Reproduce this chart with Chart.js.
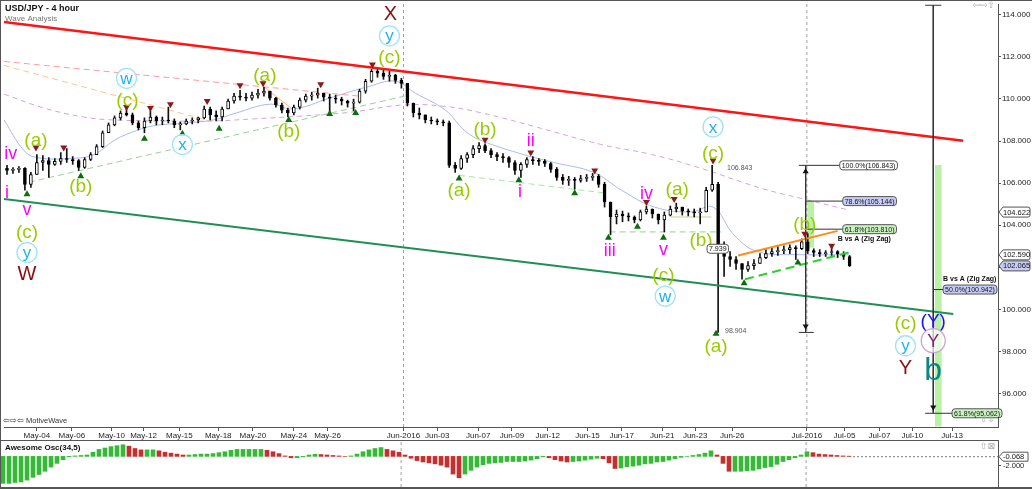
<!DOCTYPE html>
<html><head><meta charset="utf-8">
<script src="https://cdn.jsdelivr.net/npm/chart.js@4.4.1/dist/chart.umd.min.js"></script>
<style>
html,body{margin:0;padding:0;background:#fff;}
#wrap{position:relative;width:1032px;height:489px;overflow:hidden;background:#fff;}
#main{position:absolute;left:0;top:0;width:1032px;height:440px;}
#osc{position:absolute;left:0;top:440px;width:1032px;height:49px;}
.ln{position:absolute;background:#555;}
</style></head><body>
<div id="wrap">
<div id="main"><canvas id="c1"></canvas></div>
<div id="osc"><canvas id="c2"></canvas></div>
<div class="ln" style="left:0;top:0;width:1032px;height:1px"></div>
<div class="ln" style="left:0;top:0;width:1px;height:489px"></div>
<div class="ln" style="left:0;top:440px;width:999px;height:1px"></div>
<div class="ln" style="left:0;top:487px;width:1032px;height:2px"></div>
</div>
<script>
// ---------- DATA ----------
const xTickSlots  = [11,22.7,36,46.7,58.7,71.7,83.3,97,108.3,133.7,145,158.7,170,182,195.3,206.7,220.3,231.3,243.7,268.7,281.3,293,304,317.3];
const xTickLabels = ['May-04','May-06','May-10','May-12','May-15','May-18','May-20','May-24','May-26','Jun-2016','Jun-03','Jun-07','Jun-09','Jun-12','Jun-15','Jun-17','Jun-21','Jun-23','Jun-26','Jul-2016','Jul-05','Jul-07','Jul-10','Jul-13'];
const yTickValues = [96,98,100,102,104,106,108,110,112,114];
const firstOpen = 106.70;
const highs = [106.84,106.74,106.79,106.74,106.51,107.35,107.31,107.21,107.17,107.45,
107.64,107.26,107.12,107.21,107.45,107.83,108.48,108.86,109.19,109.43,
109.52,109.33,108.95,109.10,109.43,109.19,109.14,109.61,109.05,108.91,
109.05,109.10,109.14,109.66,109.61,109.43,109.61,109.99,110.27,110.41,
110.27,110.32,110.46,110.55,110.37,110.08,109.80,109.57,109.71,110.04,
110.23,110.32,110.51,110.27,110.23,110.18,110.08,109.94,109.99,110.46,
110.93,111.40,111.45,111.36,111.31,111.17,110.98,110.74,109.80,109.57,
109.24,109.14,109.05,109.00,108.95,106.98,107.31,107.45,107.78,107.92,
107.87,107.64,107.45,107.40,107.26,107.07,106.98,107.21,107.26,107.17,
107.12,106.98,106.74,106.41,106.32,106.27,106.37,106.41,106.46,106.41,
106.04,105.10,104.72,104.67,104.58,104.44,104.72,104.91,104.77,104.53,
104.63,104.91,105.05,104.86,104.77,104.77,104.81,105.80,106.84,106.04,
103.21,102.74,102.51,102.18,102.27,102.37,102.65,102.84,102.93,102.98,
103.02,103.07,103.02,103.35,103.60,102.88,102.84,102.79,102.93,102.79,
102.74,102.56];
const lows = [106.41,106.46,106.51,105.66,105.80,106.41,106.60,106.27,106.84,106.89,
106.98,106.89,106.60,106.70,107.07,107.35,107.69,108.39,108.72,109.00,
109.19,108.77,108.53,108.39,108.86,108.77,108.77,108.86,108.63,108.53,
108.77,108.81,108.86,109.05,109.00,108.95,108.95,109.52,109.80,109.94,
109.90,109.94,110.04,110.13,109.94,109.61,109.33,109.14,109.24,109.52,
109.85,109.94,110.04,109.90,109.33,109.80,109.71,109.61,109.43,109.80,
110.27,110.79,111.03,110.93,110.84,110.74,110.51,109.66,109.14,109.05,
108.86,108.81,108.77,108.72,106.74,106.51,106.65,106.98,107.21,107.45,
107.45,107.21,107.07,106.98,106.74,106.41,106.27,106.74,106.89,106.84,
106.79,106.51,106.13,105.94,105.89,105.71,106.04,106.08,106.13,105.80,
104.86,103.54,104.06,104.16,104.20,104.11,104.20,104.53,104.34,104.06,
103.68,104.44,104.63,104.48,104.44,104.39,104.06,104.63,105.60,98.90,
101.57,102.04,101.90,101.43,101.80,101.90,102.18,102.41,102.51,102.56,
102.65,102.65,102.37,102.84,102.65,102.51,102.51,102.51,102.56,102.46,
102.37,102.04];
const closes = [106.60,106.65,106.70,105.94,106.41,106.98,107.07,106.89,107.03,107.17,
107.12,107.07,106.74,107.12,107.35,107.73,108.39,108.77,109.10,109.33,
109.24,108.86,108.63,108.95,109.14,108.95,109.00,108.95,108.77,108.81,
108.95,109.00,109.10,109.52,109.24,109.14,109.52,109.90,110.13,110.08,
110.04,110.18,110.27,110.37,110.04,109.71,109.47,109.33,109.61,109.94,
110.13,110.18,110.27,110.08,110.04,109.99,109.90,109.80,109.85,110.37,
110.84,111.31,111.22,111.07,111.12,110.88,110.74,109.80,109.33,109.24,
109.00,108.95,108.91,108.86,106.84,106.70,107.17,107.35,107.64,107.78,
107.54,107.35,107.26,107.21,106.98,106.60,106.89,107.12,107.07,107.03,
106.93,106.65,106.27,106.13,106.18,106.13,106.22,106.27,106.32,105.94,
105.10,104.39,104.53,104.44,104.39,104.25,104.63,104.77,104.53,104.25,
104.48,104.77,104.86,104.67,104.63,104.58,104.63,105.66,105.94,102.74,
102.51,102.37,102.18,101.90,102.08,102.18,102.46,102.65,102.74,102.79,
102.84,102.93,102.88,103.21,102.79,102.70,102.65,102.70,102.74,102.65,
102.51,102.07];
const aoValues = [-5.8,-5.8,-5.6,-5.5,-5.1,-4.5,-3.9,-3.2,-2.3,-1.5,
-0.7,-0.1,0.1,0.2,0.3,0.9,1.5,1.8,2.1,2.3,
2.5,2.2,1.7,1.4,1.4,1.4,1.2,0.9,0.7,0.5,
0.3,0.3,0.4,0.5,0.5,0.6,0.8,1.0,1.3,1.5,
1.5,1.5,1.5,1.5,1.3,1.0,0.6,0.1,-0.3,-0.3,
-0.1,0.3,0.45,0.4,0.3,0.2,0.1,0.0,0.1,0.5,
1.0,1.4,1.7,1.9,1.5,1.2,0.9,0.3,-0.4,-0.9,
-1.2,-1.4,-1.6,-1.9,-2.3,-3.8,-4.6,-3.8,-3.0,-2.3,
-1.8,-1.5,-1.4,-1.3,-1.1,-1.1,-1.1,-1.0,-0.8,-0.5,
-0.1,-0.3,-0.7,-1.0,-1.2,-1.1,-1.0,-0.8,-0.6,-0.4,
-0.5,-1.4,-2.6,-2.5,-2.2,-2.1,-1.9,-1.6,-1.5,-1.2,
-1.1,-0.8,-0.5,-0.2,0.0,0.2,0.4,0.7,1.2,0.3,
-1.5,-3.2,-3.2,-3.2,-3.1,-3.0,-2.7,-2.4,-2.2,-1.7,
-1.1,-0.7,-0.3,0.3,1.0,0.8,0.5,0.4,0.3,0.2,
0.1,0.05];
const aoLast = -0.068;

const redChannel   = [[0,113.66],[321,108.01]];
const greenChannel = [[0,105.24],[317.7,99.78]];
const pinkDash     = [[0,111.78],[119,110.13]];
const orangeDash   = [[0,111.59],[69,108.95]];
const orangeAB     = [[86.7,110.60],[97.3,109.43]];
const greenDash1   = [[8.3,106.04],[134,110.13]];
const greenDash2   = [[152.3,106.37],[201.7,105.52]];
const greenDash3   = [[202.7,103.68],[240,103.68]];
const oliveLine    = [[223.3,104.39],[236.7,104.39]];
const triUpper     = [[245.7,102.56],[279,103.73]];
const triLower     = [[248,101.43],[282.7,102.70]];
const blueMA = [[0,109.00],[6.7,107.54],[11,107.21],[22.3,107.17],[30,107.35],[36.7,108.01],[42.3,108.39],[50,108.72],[61,108.86],[70,109.00],[77.7,109.33],[89,109.75],[96.7,109.52],[109,110.04],[122.3,110.60],[131,110.84],[137.7,110.27],[147.7,109.47],[154.3,108.48],[160,108.01],[174,107.35],[184,106.98],[197.3,106.51],[206.7,105.66],[217.7,104.86],[230,104.63],[237.3,104.86],[244.3,103.54],[252.3,102.74],[266.7,102.60],[282.7,102.60]];
const purpleMA = [[0,110.23],[13.3,109.57],[26.7,109.14],[36.7,109.00],[56.7,108.95],[70,108.95],[83.3,109.05],[100,109.19],[116.7,109.38],[133.3,109.71],[146.7,109.66],[160,109.33],[176.7,108.72],[200,107.83],[216.7,107.36],[233.3,106.70],[253.3,105.76],[267.7,105.24],[282.7,104.72]];

const peakMarks = [[10.7,107.69],[20,107.69],[41,109.61],[49,109.57],[55.7,109.75],[68,109.90],[79,110.65],[86.7,110.74],[106,110.70],[123.3,111.64],[161,108.06],[176.3,107.45],[197.7,106.60],[215,105.10],[224.3,105.24],[237.3,107.07],[268,103.59],[277,103.02]];
const troughMarks = [[7.7,105.47],[25.7,106.32],[47,108.11],[59.7,108.34],[72,108.58],[95.3,109.0],[109,109.28],[117.7,109.33],[152.3,106.22],[172.3,106.13],[191,105.52],[202.3,103.40],[212,103.92],[220.7,103.40],[238.3,98.84],[247.7,101.24],[265.7,102.23]];

const bands = [[270,102.95,105.144],[312.7,94.45,106.843]];

const measureLines = [
 [[268.3,106.843],[268.3,98.904]],[[266,106.843],[279.7,106.843]],[[266,98.904],[271,98.904]],
 [[268.3,105.144],[280.7,105.144]],[[268.3,103.810],[280.7,103.810]],
 [[311,114.45],[311,95.062]],[[308.3,114.45],[313.7,114.45]],[[308.3,95.062],[317.3,95.062]],[[311,100.942],[314.3,100.942]]];
const arrowsUp = [[268.3,106.55]];
const arrowsDown = [[268.3,99.2],[311,95.35]];
const measureBoxes = [['100.0%(106.843)',279.7,106.843,'plain'],['78.6%(105.144)',280.7,105.144,'blue'],['61.8%(103.810)',280.7,103.810,'green'],['50.0%(100.942)',314.3,100.942,'blue'],['61.8%(95.062)',317.3,95.062,'green']];
const measureTitles = [['B vs A (Zig Zag)',279,103.35],['B vs A (Zig Zag)',314.3,101.43]];
const spikeNotes = [['106.843',242,106.70],['98.904',241.3,98.98]];
const rangeNote = ['7.939',238.3,102.88];
const axisMarks = [[104.622,'plain'],[102.590,'plain'],[102.065,'blue']];

const waveLabels = [
 ['iv',2.3,107.45,'minor'],['i',1,105.57,'minor'],['v',7.7,104.77,'minor'],['(c)',7.7,103.68,'inter'],['y',7.7,102.70,'circ'],['W',7.7,101.71,'prim'],
 ['(a)',10.7,108.06,'inter'],['(b)',25.7,105.89,'inter'],['(c)',41.3,109.94,'inter'],['w',41,110.98,'circ'],['x',59.7,107.83,'circ'],
 ['(a)',87.3,111.17,'inter'],['(b)',95.3,108.48,'inter'],['(c)',129,112.02,'inter'],['y',129,113.0,'circ'],['X',129.3,114.08,'prim'],
 ['(a)',152.3,105.66,'inter'],['(b)',161,108.58,'inter'],['i',172.7,105.61,'minor'],['ii',176.3,108.06,'minor'],['iii',202.7,102.84,'minor'],
 ['iv',215,105.52,'minor'],['v',220.7,102.88,'minor'],['(c)',220.7,101.66,'inter'],['w',221.3,100.63,'circ'],['(a)',225.3,105.71,'inter'],
 ['(b)',233.3,103.31,'inter'],['(c)',237.3,107.45,'inter'],['x',237.3,108.67,'circ'],['(a)',238.3,98.27,'inter'],['(b)',268,104.06,'inter'],
 ['(c)',301.7,99.35,'inter'],['y',301.7,98.27,'circ'],['Y',301.7,97.24,'prim'],['(Y)',311,99.45,'blue'],['Y',311,98.51,'purp'],['b',311,97.1,'teal']];

// ---------- STYLE ----------
const FF = '"Liberation Sans", Arial, sans-serif';
const waveStyle = {
 minor:{color:'#ff00ff',font:'18px '+FF},
 inter:{color:'#99cc00',font:'19px '+FF},
 circ:{color:'#1cb4ec',font:'17px '+FF,ring:'#9fe2fa',r:10},
 prim:{color:'#8b0f0f',font:'20px '+FF},
 blue:{color:'#1414ff',font:'19px '+FF},
 purp:{color:'#7b1f6a',font:'18px '+FF,ring:'#c9a3d9',r:12},
 teal:{color:'#0f8585',font:'32px '+FF}
};
const boxFill = {plain:'#ffffff',blue:'#c6ccf3',green:'#c9f2c0'};
const XMIN=0, XMAX=332.67, YMIN=94.41, YMAX=114.51, AOMIN=-6.58, AOMAX=3.31;
const slotOf = i => 2*i + 1;
const monthSlots = xTickSlots.filter((s,i)=>xTickLabels[i].indexOf('2016')>=0);

// ---------- HELPERS ----------
const pts = a => a.map(([x,y])=>({x,y}));
function lineDS(p,color,width,dash,order,tension){return {type:'line',data:pts(p),borderColor:color,borderWidth:width,borderDash:dash||[],pointRadius:0,tension:tension||0,order:order,fill:false};}
function rrect(ctx,x,y,w,h,r){ctx.beginPath();ctx.moveTo(x+r,y);ctx.lineTo(x+w-r,y);ctx.quadraticCurveTo(x+w,y,x+w,y+r);ctx.lineTo(x+w,y+h-r);ctx.quadraticCurveTo(x+w,y+h,x+w-r,y+h);ctx.lineTo(x+r,y+h);ctx.quadraticCurveTo(x,y+h,x,y+h-r);ctx.lineTo(x,y+r);ctx.quadraticCurveTo(x,y,x+r,y);ctx.closePath();}
function labelBox(ctx,t,x,y,fill,font){ctx.save();ctx.font=font;const w=ctx.measureText(t).width+4,h=9;rrect(ctx,x,y-h/2,w,h,3);ctx.fillStyle=fill;ctx.fill();ctx.strokeStyle='#555';ctx.lineWidth=1;ctx.stroke();ctx.fillStyle='#111';ctx.textAlign='left';ctx.textBaseline='middle';ctx.fillText(t,x+2,y+0.5);ctx.restore();}
function txt(ctx,t,x,y,font,color,align){ctx.save();ctx.font=font;ctx.fillStyle=color;ctx.textAlign=align||'left';ctx.textBaseline='middle';ctx.fillText(t,x,y);ctx.restore();}
function noPad(s){s.paddingTop=0;s.paddingBottom=0;s.paddingLeft=0;s.paddingRight=0;}

// ---------- MAIN CHART ----------
const opens = closes.map((c,i)=> i===0 ? firstOpen : closes[i-1]);
const wickData = highs.map((h,i)=>({x:slotOf(i),y:[lows[i],h]}));
const bodyData = closes.map((c,i)=>({x:slotOf(i),y:[opens[i],c]}));
const bodyColors = closes.map((c,i)=> c>=opens[i] ? '#ffffff' : '#000000');

const datasets = [
 {type:'bar',data:bands.map(([x,a,b])=>({x,y:[a,b]})),backgroundColor:'#b9f2a4',barThickness:6,grouped:false,order:20},
 ...monthSlots.map(s=>lineDS([[s,YMIN],[s,YMAX]],'#a0a0a0',1,[3,3],19)),
 lineDS(purpleMA,'#d8a2d8',1,[5,4],15,0.4),
 lineDS(blueMA,'#aab8f2',1,[],15,0.4),
 lineDS(pinkDash,'#ff9a9a',1,[6,4],14),
 lineDS(orangeDash,'#ffc488',1,[6,4],14),
 lineDS(orangeAB,'#ffb266',1,[],14),
 lineDS(greenDash1,'#94d494',1,[6,4],14),
 lineDS(greenDash2,'#a4e8a4',1,[6,4],14),
 lineDS(greenDash3,'#94d494',1,[6,4],14),
 lineDS(oliveLine,'#cfcf98',1,[],14),
 {type:'bar',data:wickData,backgroundColor:'#111',barThickness:1,grouped:false,order:6},
 {type:'bar',data:bodyData,backgroundColor:bodyColors,borderColor:'#000',borderWidth:1,borderSkipped:false,barThickness:3,minBarLength:1,grouped:false,order:5},
 lineDS(redChannel,'#ff1414',2.5,[],4),
 lineDS(greenChannel,'#1f8f55',2,[],4),
 lineDS(triUpper,'#ff8c1a',2,[],4),
 lineDS(triLower,'#2ad42a',2,[9,5],4),
 ...measureLines.map(p=>lineDS(p,'#333',1,[],3)),
 {type:'line',data:pts(peakMarks),showLine:false,pointStyle:'triangle',pointRotation:180,pointRadius:4,pointBackgroundColor:'#8b1a1a',pointBorderWidth:0,order:2},
 {type:'line',data:pts(troughMarks),showLine:false,pointStyle:'triangle',pointRadius:4,pointBackgroundColor:'#0a6e0a',pointBorderWidth:0,order:2},
 {type:'line',data:pts(arrowsUp),showLine:false,pointStyle:'triangle',pointRadius:3.5,pointBackgroundColor:'#111',pointBorderWidth:0,order:2},
 {type:'line',data:pts(arrowsDown),showLine:false,pointStyle:'triangle',pointRotation:180,pointRadius:3.5,pointBackgroundColor:'#111',pointBorderWidth:0,order:2}
];

const mainDecor = {
 id:'mainDecor',
 afterDatasetsDraw(chart){
  const ctx=chart.ctx, xs=chart.scales.x, ys=chart.scales.y;
  const px=v=>xs.getPixelForValue(v), py=v=>ys.getPixelForValue(v);
  waveLabels.forEach(([t,sx,p,k])=>{
   const st=waveStyle[k], X=px(sx), Y=py(p);
   ctx.save();
   if(st.ring){ctx.beginPath();ctx.arc(X,Y,st.r,0,Math.PI*2);ctx.fillStyle='rgba(255,255,255,0.7)';ctx.fill();ctx.lineWidth=1.3;ctx.strokeStyle=st.ring;ctx.stroke();}
   ctx.font=st.font;ctx.fillStyle=st.color;ctx.textAlign='center';ctx.textBaseline='middle';
   ctx.fillText(t,X,Y+1);
   ctx.restore();
  });
  measureBoxes.forEach(([t,sx,p,k])=>labelBox(ctx,t,px(sx),py(p),boxFill[k],'7px '+FF));
  measureTitles.forEach(([t,sx,p])=>txt(ctx,t,px(sx),py(p),'bold 7px '+FF,'#111'));
  spikeNotes.forEach(([t,sx,p])=>txt(ctx,t,px(sx),py(p),'7px '+FF,'#555'));
  labelBox(ctx,rangeNote[0],px(rangeNote[1])-9,py(rangeNote[2]),'#fff','7px '+FF);
  axisMarks.forEach(([v,k])=>{
   const Y=py(v), X=xs.right+1;
   ctx.save();ctx.font='7.5px '+FF;
   ctx.beginPath();ctx.moveTo(X,Y);ctx.lineTo(X+4,Y-5);ctx.lineTo(X+29,Y-5);ctx.quadraticCurveTo(X+31,Y-5,X+31,Y-3);ctx.lineTo(X+31,Y+3);ctx.quadraticCurveTo(X+31,Y+5,X+29,Y+5);ctx.lineTo(X+4,Y+5);ctx.closePath();
   ctx.fillStyle=boxFill[k];ctx.fill();ctx.strokeStyle='#555';ctx.lineWidth=1;ctx.stroke();
   ctx.fillStyle='#111';ctx.textBaseline='middle';ctx.textAlign='left';ctx.fillText(v.toFixed(3),X+4,Y+0.5);
   ctx.restore();
  });
  txt(ctx,'USD/JPY - 4 hour',5,9,'bold 9px '+FF,'#111');
  txt(ctx,'Wave Analysis',5,19,'8px '+FF,'#777');
  txt(ctx,'\u21E6\u21E8\u21E6 MotiveWave',3,421,'7.5px '+FF,'#333');
  txt(ctx,'\u21E6\u21E8\u21E7',995,6,'9px "DejaVu Sans"','#aaa','right');
  txt(ctx,'\u21E7\u21E9',995,420,'9px "DejaVu Sans"','#aaa','right');
 }
};

new Chart(document.getElementById('c1'),{
 type:'bar',
 data:{datasets},
 options:{
  responsive:true,maintainAspectRatio:false,animation:false,
  layout:{padding:0},
  plugins:{legend:{display:false},tooltip:{enabled:false}},
  scales:{
   x:{type:'linear',min:XMIN,max:XMAX,offset:false,
      grid:{display:true,drawOnChartArea:false,drawTicks:true,tickLength:4,color:'#555',offset:false},
      border:{display:true,color:'#555'},
      afterBuildTicks:s=>{s.ticks=xTickSlots.map(v=>({value:v}));},
      afterFit:s=>{s.height=13;noPad(s);},
      ticks:{autoSkip:false,maxRotation:0,padding:0,color:'#222',font:{size:8,family:FF},callback:(v,i)=>xTickLabels[i]}},
   y:{type:'linear',position:'right',min:YMIN,max:YMAX,
      grid:{display:true,drawOnChartArea:false,tickLength:3,color:'#555'},
      border:{display:true,color:'#555'},
      afterBuildTicks:s=>{s.ticks=yTickValues.map(v=>({value:v}));},
      afterFit:s=>{s.width=34;noPad(s);},
      ticks:{padding:1,color:'#222',font:{size:8,family:FF},callback:v=>v===102?'':v.toFixed(3)}}
  }
 },
 plugins:[mainDecor]
});

// ---------- OSCILLATOR ----------
const aoColors = aoValues.map((v,i)=> (i===0 || v>=aoValues[i-1]) ? '#38b838' : '#c43030');
const oscDecor = {
 id:'oscDecor',
 afterDatasetsDraw(chart){
  const ctx=chart.ctx, xs=chart.scales.x, ys=chart.scales.y;
  txt(ctx,'Awesome Osc(34,5)',5,8,'bold 8px '+FF,'#111');
  const Y=ys.getPixelForValue(aoLast), X=xs.right+1;
  ctx.save();ctx.font='7.5px '+FF;
  ctx.beginPath();ctx.moveTo(X,Y);ctx.lineTo(X+4,Y-4.5);ctx.lineTo(X+29,Y-4.5);ctx.lineTo(X+29,Y+4.5);ctx.lineTo(X+4,Y+4.5);ctx.closePath();
  ctx.fillStyle='#fff';ctx.fill();ctx.strokeStyle='#555';ctx.stroke();
  ctx.fillStyle='#111';ctx.textBaseline='middle';ctx.fillText(aoLast.toFixed(3),X+4,Y+0.5);ctx.restore();
  txt(ctx,'\u21E7\u22A0',995,7,'9px "DejaVu Sans"','#aaa','right');
 }
};
new Chart(document.getElementById('c2'),{
 type:'bar',
 data:{datasets:[
  {type:'bar',data:aoValues.map((v,i)=>({x:slotOf(i),y:v})),backgroundColor:aoColors,barThickness:4,grouped:false,order:2},
  ...monthSlots.map(s=>lineDS([[s,AOMIN],[s,AOMAX]],'#a0a0a0',1,[3,3],5)),
  lineDS([[slotOf(aoValues.length-1),aoLast],[XMAX,aoLast]],'#777',1,[2,2],1)
 ]},
 options:{
  responsive:true,maintainAspectRatio:false,animation:false,
  layout:{padding:{top:1,bottom:2,left:0,right:0}},
  plugins:{legend:{display:false},tooltip:{enabled:false}},
  scales:{
   x:{type:'linear',min:XMIN,max:XMAX,display:false,offset:false},
   y:{type:'linear',position:'right',min:AOMIN,max:AOMAX,
      grid:{display:true,drawOnChartArea:false,tickLength:3,color:'#555'},
      border:{display:true,color:'#555'},
      afterBuildTicks:s=>{s.ticks=[{value:-2}];},
      afterFit:s=>{s.width=34;noPad(s);},
      ticks:{padding:2,color:'#222',font:{size:7.5,family:FF},callback:v=>v.toFixed(3)}}
  }
 },
 plugins:[oscDecor]
});
</script>
</body></html>
